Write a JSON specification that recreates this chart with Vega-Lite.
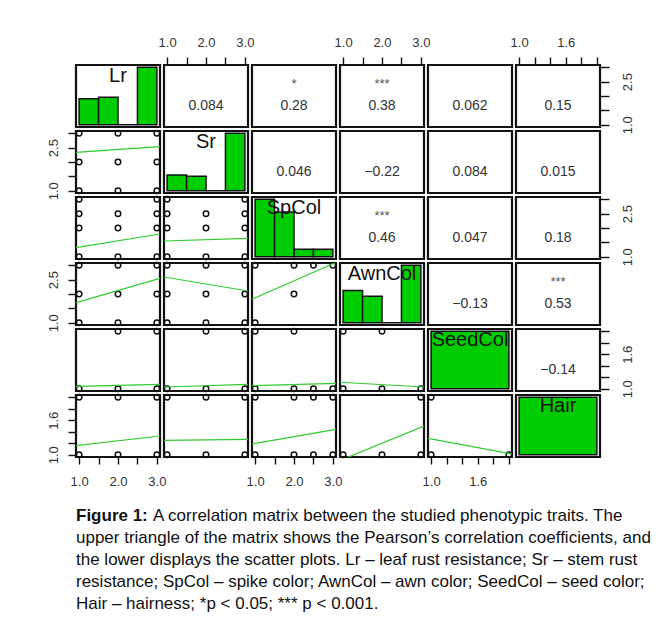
{
"$schema":"https://vega.github.io/schema/vega-lite/v6.json",
"background":"white",
"padding":{"left":45,"top":34,"right":0,"bottom":0},
"columns":6,"spacing":4,"bounds":"flush","align":"each",
"datasets":{
"hist":[
{"v":"Lr","x":1,"x2":1.5,"y":0.45,"y2":0},{"v":"Lr","x":1.5,"x2":2,"y":0.48,"y2":0},{"v":"Lr","x":2,"x2":2.5,"y":0,"y2":0},{"v":"Lr","x":2.5,"x2":3,"y":1,"y2":0},
{"v":"Sr","x":1,"x2":1.5,"y":0.275,"y2":0},{"v":"Sr","x":1.5,"x2":2,"y":0.25,"y2":0},{"v":"Sr","x":2,"x2":2.5,"y":0,"y2":0},{"v":"Sr","x":2.5,"x2":3,"y":1,"y2":0},
{"v":"SpCol","x":1,"x2":1.5,"y":1,"y2":0},{"v":"SpCol","x":1.5,"x2":2,"y":0.78,"y2":0},{"v":"SpCol","x":2,"x2":2.5,"y":0.13,"y2":0},{"v":"SpCol","x":2.5,"x2":3,"y":0.13,"y2":0},
{"v":"AwnCol","x":1,"x2":1.5,"y":0.56,"y2":0},{"v":"AwnCol","x":1.5,"x2":2,"y":0.46,"y2":0},{"v":"AwnCol","x":2,"x2":2.5,"y":0,"y2":0},{"v":"AwnCol","x":2.5,"x2":3,"y":1,"y2":0},
{"v":"SeedCol","x":1,"x2":2,"y":1,"y2":0},
{"v":"Hair","x":1,"x2":2,"y":1,"y2":0}
],
"diag":[
{"v":"Lr","x":2,"y":0.85,"t":"Lr"},{"v":"Sr","x":2,"y":0.85,"t":"Sr"},{"v":"SpCol","x":2,"y":0.85,"t":"SpCol"},{"v":"AwnCol","x":2,"y":0.85,"t":"AwnCol"},{"v":"SeedCol","x":1.5,"y":0.85,"t":"SeedCol"},{"v":"Hair","x":1.5,"y":0.85,"t":"Hair"}
],
"cor":[
{"p":"1_2","k":"v","x":2,"y":1.654,"t":"0.084"},
{"p":"1_3","k":"v","x":2,"y":1.654,"t":"0.28"},{"p":"1_3","k":"s","x":2,"y":2.41,"t":"*"},
{"p":"1_4","k":"v","x":2,"y":1.654,"t":"0.38"},{"p":"1_4","k":"s","x":2,"y":2.41,"t":"***"},
{"p":"1_5","k":"v","x":1.5,"y":1.654,"t":"0.062"},
{"p":"1_6","k":"v","x":1.5,"y":1.654,"t":"0.15"},
{"p":"2_3","k":"v","x":2,"y":1.654,"t":"0.046"},
{"p":"2_4","k":"v","x":2,"y":1.654,"t":"−0.22"},
{"p":"2_5","k":"v","x":1.5,"y":1.654,"t":"0.084"},
{"p":"2_6","k":"v","x":1.5,"y":1.654,"t":"0.015"},
{"p":"3_4","k":"v","x":2,"y":1.654,"t":"0.46"},{"p":"3_4","k":"s","x":2,"y":2.41,"t":"***"},
{"p":"3_5","k":"v","x":1.5,"y":1.654,"t":"0.047"},
{"p":"3_6","k":"v","x":1.5,"y":1.654,"t":"0.18"},
{"p":"4_5","k":"v","x":1.5,"y":1.654,"t":"−0.13"},
{"p":"4_6","k":"v","x":1.5,"y":1.654,"t":"0.53"},{"p":"4_6","k":"s","x":1.5,"y":2.41,"t":"***"},
{"p":"5_6","k":"v","x":1.5,"y":1.327,"t":"−0.14"}
],
"pts":[
{"p":"2_1","x":1,"y":1},{"p":"2_1","x":2,"y":1},{"p":"2_1","x":3,"y":1},{"p":"2_1","x":1,"y":2},{"p":"2_1","x":2,"y":2},{"p":"2_1","x":3,"y":2},{"p":"2_1","x":1,"y":3},{"p":"2_1","x":2,"y":3},{"p":"2_1","x":3,"y":3},
{"p":"3_1","x":1,"y":1},{"p":"3_1","x":2,"y":1},{"p":"3_1","x":3,"y":1},{"p":"3_1","x":1,"y":2},{"p":"3_1","x":2,"y":2},{"p":"3_1","x":3,"y":2},{"p":"3_1","x":1,"y":2.5},{"p":"3_1","x":2,"y":2.5},{"p":"3_1","x":3,"y":2.5},{"p":"3_1","x":1,"y":3},{"p":"3_1","x":3,"y":3},
{"p":"3_2","x":1,"y":1},{"p":"3_2","x":2,"y":1},{"p":"3_2","x":3,"y":1},{"p":"3_2","x":1,"y":2},{"p":"3_2","x":2,"y":2},{"p":"3_2","x":3,"y":2},{"p":"3_2","x":1,"y":2.5},{"p":"3_2","x":2,"y":2.5},{"p":"3_2","x":3,"y":2.5},{"p":"3_2","x":1,"y":3},{"p":"3_2","x":3,"y":3},
{"p":"4_1","x":1,"y":1},{"p":"4_1","x":2,"y":1},{"p":"4_1","x":3,"y":1},{"p":"4_1","x":1,"y":2},{"p":"4_1","x":2,"y":2},{"p":"4_1","x":3,"y":2},{"p":"4_1","x":1,"y":3},{"p":"4_1","x":2,"y":3},{"p":"4_1","x":3,"y":3},
{"p":"4_2","x":1,"y":1},{"p":"4_2","x":2,"y":1},{"p":"4_2","x":3,"y":1},{"p":"4_2","x":1,"y":2},{"p":"4_2","x":2,"y":2},{"p":"4_2","x":3,"y":2},{"p":"4_2","x":1,"y":3},{"p":"4_2","x":2,"y":3},{"p":"4_2","x":3,"y":3},
{"p":"4_3","x":1,"y":1},{"p":"4_3","x":2,"y":2},{"p":"4_3","x":1,"y":3},{"p":"4_3","x":2,"y":3},{"p":"4_3","x":2.5,"y":3},{"p":"4_3","x":3,"y":3},
{"p":"5_1","x":1,"y":1},{"p":"5_1","x":2,"y":1},{"p":"5_1","x":3,"y":1},{"p":"5_1","x":2,"y":2},{"p":"5_1","x":3,"y":2},
{"p":"5_2","x":1,"y":1},{"p":"5_2","x":2,"y":1},{"p":"5_2","x":3,"y":1},{"p":"5_2","x":2,"y":2},{"p":"5_2","x":3,"y":2},
{"p":"5_3","x":1,"y":1},{"p":"5_3","x":2,"y":1},{"p":"5_3","x":2.5,"y":1},{"p":"5_3","x":3,"y":1},{"p":"5_3","x":1,"y":2},{"p":"5_3","x":2,"y":2},
{"p":"5_4","x":1,"y":1},{"p":"5_4","x":2,"y":1},{"p":"5_4","x":3,"y":1},{"p":"5_4","x":1,"y":2},{"p":"5_4","x":2,"y":2},
{"p":"6_1","x":1,"y":1},{"p":"6_1","x":2,"y":1},{"p":"6_1","x":3,"y":1},{"p":"6_1","x":1,"y":2},{"p":"6_1","x":2,"y":2},{"p":"6_1","x":3,"y":2},
{"p":"6_2","x":1,"y":1},{"p":"6_2","x":2,"y":1},{"p":"6_2","x":3,"y":1},{"p":"6_2","x":1,"y":2},{"p":"6_2","x":2,"y":2},{"p":"6_2","x":3,"y":2},
{"p":"6_3","x":1,"y":1},{"p":"6_3","x":2,"y":1},{"p":"6_3","x":2.5,"y":1},{"p":"6_3","x":3,"y":1},{"p":"6_3","x":1,"y":2},{"p":"6_3","x":2,"y":2},{"p":"6_3","x":2.5,"y":2},{"p":"6_3","x":3,"y":2},
{"p":"6_4","x":1,"y":1},{"p":"6_4","x":2,"y":1},{"p":"6_4","x":3,"y":1},{"p":"6_4","x":3,"y":2},
{"p":"6_5","x":1,"y":1},{"p":"6_5","x":2,"y":1},{"p":"6_5","x":1,"y":2}
],
"lines":[
{"p":"2_1","x":0.92,"y":2.338},{"p":"2_1","x":3.08,"y":2.533},
{"p":"3_1","x":0.92,"y":1.314},{"p":"3_1","x":3.08,"y":1.791},
{"p":"3_2","x":0.92,"y":1.547},{"p":"3_2","x":3.08,"y":1.641},
{"p":"4_1","x":0.92,"y":1.697},{"p":"4_1","x":3.08,"y":2.547},
{"p":"4_2","x":0.92,"y":2.592},{"p":"4_2","x":3.08,"y":2.104},
{"p":"4_3","x":0.92,"y":1.815},{"p":"4_3","x":3.08,"y":3.1},
{"p":"5_1","x":0.92,"y":1.042},{"p":"5_1","x":3.08,"y":1.077},
{"p":"5_2","x":0.92,"y":1.03},{"p":"5_2","x":3.08,"y":1.077},
{"p":"5_3","x":0.92,"y":1.052},{"p":"5_3","x":3.08,"y":1.094},
{"p":"5_4","x":0.92,"y":1.112},{"p":"5_4","x":3.08,"y":1.03},
{"p":"6_1","x":0.92,"y":1.157},{"p":"6_1","x":3.08,"y":1.326},
{"p":"6_2","x":0.92,"y":1.251},{"p":"6_2","x":3.08,"y":1.268},
{"p":"6_3","x":0.92,"y":1.186},{"p":"6_3","x":3.08,"y":1.442},
{"p":"6_4","x":0.92,"y":0.9},{"p":"6_4","x":3.08,"y":1.5},
{"p":"6_5","x":0.96,"y":1.286},{"p":"6_5","x":2.04,"y":1.012}
],
"cap":[
{"ly":1,"x":0,"k":"b","t":"Figure 1:"},
{"ly":1,"x":0,"k":"r1","t":"A correlation matrix between the studied phenotypic traits. The"},
{"ly":2,"x":0,"k":"r","t":"upper triangle of the matrix shows the Pearson’s correlation coefficients, and"},
{"ly":3,"x":0,"k":"r","t":"the lower displays the scatter plots. Lr – leaf rust resistance; Sr – stem rust"},
{"ly":4,"x":0,"k":"r","t":"resistance; SpCol – spike color; AwnCol – awn color; SeedCol – seed color;"},
{"ly":5,"x":0,"k":"r","t":"Hair – hairness; *p < 0.05; *** p < 0.001."}
]
},
"concat":[
{"width":84,"height":62,"encoding":{"x":{"field":"x","type":"quantitative","scale":{"domain":[0.92,3.08],"nice":false,"zero":false},"axis":null},"y":{"field":"y","type":"quantitative","scale":{"domain":[-0.04,1.04],"nice":false,"zero":false},"axis":null}},
 "layer":[{"data":{"name":"hist"},"transform":[{"filter":"datum.v=='Lr'"}],"mark":{"type":"rect","fill":"#00cd00","stroke":"#111","strokeWidth":1.5},"encoding":{"x2":{"field":"x2"},"y2":{"field":"y2"}}},
 {"data":{"name":"diag"},"transform":[{"filter":"datum.v=='Lr'"}],"mark":{"type":"text","fontSize":20,"color":"#111","baseline":"middle"},"encoding":{"text":{"field":"t"}}}]},
{"width":84,"height":62,"encoding":{"x":{"field":"x","type":"quantitative","scale":{"domain":[0.92,3.08],"nice":false,"zero":false},"axis":{"orient":"top","title":null,"values":[1,1.5,2,2.5,3],"labelExpr":"datum.value==1||datum.value==2||datum.value==3?format(datum.value,'.1f'):''","tickSize":8,"labelPadding":8}},"y":{"field":"y","type":"quantitative","scale":{"domain":[0.92,3.08],"nice":false,"zero":false},"axis":null},"text":{"field":"t"}},
 "layer":[{"data":{"name":"cor"},"transform":[{"filter":"datum.p=='1_2'&&datum.k=='v'"}],"mark":{"type":"text","fontSize":14,"color":"#333","baseline":"middle"}}]},
{"width":84,"height":62,"encoding":{"x":{"field":"x","type":"quantitative","scale":{"domain":[0.92,3.08],"nice":false,"zero":false},"axis":null},"y":{"field":"y","type":"quantitative","scale":{"domain":[0.92,3.08],"nice":false,"zero":false},"axis":null},"text":{"field":"t"}},
 "layer":[{"data":{"name":"cor"},"transform":[{"filter":"datum.p=='1_3'&&datum.k=='v'"}],"mark":{"type":"text","fontSize":14,"color":"#333","baseline":"middle"}},{"data":{"name":"cor"},"transform":[{"filter":"datum.p=='1_3'&&datum.k=='s'"}],"mark":{"type":"text","fontSize":13,"color":"#555","baseline":"middle"}}]},
{"width":84,"height":62,"encoding":{"x":{"field":"x","type":"quantitative","scale":{"domain":[0.92,3.08],"nice":false,"zero":false},"axis":{"orient":"top","title":null,"values":[1,1.5,2,2.5,3],"labelExpr":"datum.value==1||datum.value==2||datum.value==3?format(datum.value,'.1f'):''","tickSize":8,"labelPadding":8}},"y":{"field":"y","type":"quantitative","scale":{"domain":[0.92,3.08],"nice":false,"zero":false},"axis":null},"text":{"field":"t"}},
 "layer":[{"data":{"name":"cor"},"transform":[{"filter":"datum.p=='1_4'&&datum.k=='v'"}],"mark":{"type":"text","fontSize":14,"color":"#333","baseline":"middle"}},{"data":{"name":"cor"},"transform":[{"filter":"datum.p=='1_4'&&datum.k=='s'"}],"mark":{"type":"text","fontSize":13,"color":"#555","baseline":"middle"}}]},
{"width":84,"height":62,"encoding":{"x":{"field":"x","type":"quantitative","scale":{"domain":[0.96,2.04],"nice":false,"zero":false},"axis":null},"y":{"field":"y","type":"quantitative","scale":{"domain":[0.92,3.08],"nice":false,"zero":false},"axis":null},"text":{"field":"t"}},
 "layer":[{"data":{"name":"cor"},"transform":[{"filter":"datum.p=='1_5'&&datum.k=='v'"}],"mark":{"type":"text","fontSize":14,"color":"#333","baseline":"middle"}}]},
{"width":84,"height":62,"encoding":{"x":{"field":"x","type":"quantitative","scale":{"domain":[0.96,2.04],"nice":false,"zero":false},"axis":{"orient":"top","title":null,"values":[1,1.2,1.4,1.6,1.8,2],"labelExpr":"datum.value==1||datum.value==1.6?format(datum.value,'.1f'):''","tickSize":8,"labelPadding":8}},"y":{"field":"y","type":"quantitative","scale":{"domain":[0.92,3.08],"nice":false,"zero":false},"axis":{"orient":"right","title":null,"values":[1,1.5,2,2.5,3],"labelExpr":"datum.value==1||datum.value==2.5?format(datum.value,'.1f'):''","labelAngle":270,"labelAlign":"center","labelBaseline":"top","tickSize":9,"labelPadding":12}},"text":{"field":"t"}},
 "layer":[{"data":{"name":"cor"},"transform":[{"filter":"datum.p=='1_6'&&datum.k=='v'"}],"mark":{"type":"text","fontSize":14,"color":"#333","baseline":"middle"}}]},

{"width":84,"height":62,"encoding":{"x":{"field":"x","type":"quantitative","scale":{"domain":[0.92,3.08],"nice":false,"zero":false},"axis":null},"y":{"field":"y","type":"quantitative","scale":{"domain":[0.92,3.08],"nice":false,"zero":false},"axis":{"orient":"left","title":null,"values":[1,1.5,2,2.5,3],"labelExpr":"datum.value==1||datum.value==2.5?format(datum.value,'.1f'):''","labelAngle":270,"labelAlign":"center","labelBaseline":"bottom","tickSize":8,"labelPadding":8}}},
 "layer":[{"data":{"name":"pts"},"transform":[{"filter":"datum.p=='2_1'"}],"mark":{"type":"point","shape":"circle","filled":false,"color":"#111","size":30,"strokeWidth":1.5,"opacity":1}},{"data":{"name":"lines"},"transform":[{"filter":"datum.p=='2_1'"}],"mark":{"type":"line","color":"#2ecc2e","strokeWidth":1.2,"clip":true}}]},
{"width":84,"height":62,"encoding":{"x":{"field":"x","type":"quantitative","scale":{"domain":[0.92,3.08],"nice":false,"zero":false},"axis":null},"y":{"field":"y","type":"quantitative","scale":{"domain":[-0.04,1.04],"nice":false,"zero":false},"axis":null}},
 "layer":[{"data":{"name":"hist"},"transform":[{"filter":"datum.v=='Sr'"}],"mark":{"type":"rect","fill":"#00cd00","stroke":"#111","strokeWidth":1.5},"encoding":{"x2":{"field":"x2"},"y2":{"field":"y2"}}},
 {"data":{"name":"diag"},"transform":[{"filter":"datum.v=='Sr'"}],"mark":{"type":"text","fontSize":20,"color":"#111","baseline":"middle"},"encoding":{"text":{"field":"t"}}}]},
{"width":84,"height":62,"encoding":{"x":{"field":"x","type":"quantitative","scale":{"domain":[0.92,3.08],"nice":false,"zero":false},"axis":null},"y":{"field":"y","type":"quantitative","scale":{"domain":[0.92,3.08],"nice":false,"zero":false},"axis":null},"text":{"field":"t"}},
 "layer":[{"data":{"name":"cor"},"transform":[{"filter":"datum.p=='2_3'&&datum.k=='v'"}],"mark":{"type":"text","fontSize":14,"color":"#333","baseline":"middle"}}]},
{"width":84,"height":62,"encoding":{"x":{"field":"x","type":"quantitative","scale":{"domain":[0.92,3.08],"nice":false,"zero":false},"axis":null},"y":{"field":"y","type":"quantitative","scale":{"domain":[0.92,3.08],"nice":false,"zero":false},"axis":null},"text":{"field":"t"}},
 "layer":[{"data":{"name":"cor"},"transform":[{"filter":"datum.p=='2_4'&&datum.k=='v'"}],"mark":{"type":"text","fontSize":14,"color":"#333","baseline":"middle"}}]},
{"width":84,"height":62,"encoding":{"x":{"field":"x","type":"quantitative","scale":{"domain":[0.96,2.04],"nice":false,"zero":false},"axis":null},"y":{"field":"y","type":"quantitative","scale":{"domain":[0.92,3.08],"nice":false,"zero":false},"axis":null},"text":{"field":"t"}},
 "layer":[{"data":{"name":"cor"},"transform":[{"filter":"datum.p=='2_5'&&datum.k=='v'"}],"mark":{"type":"text","fontSize":14,"color":"#333","baseline":"middle"}}]},
{"width":84,"height":62,"encoding":{"x":{"field":"x","type":"quantitative","scale":{"domain":[0.96,2.04],"nice":false,"zero":false},"axis":null},"y":{"field":"y","type":"quantitative","scale":{"domain":[0.92,3.08],"nice":false,"zero":false},"axis":null},"text":{"field":"t"}},
 "layer":[{"data":{"name":"cor"},"transform":[{"filter":"datum.p=='2_6'&&datum.k=='v'"}],"mark":{"type":"text","fontSize":14,"color":"#333","baseline":"middle"}}]},

{"width":84,"height":62,"encoding":{"x":{"field":"x","type":"quantitative","scale":{"domain":[0.92,3.08],"nice":false,"zero":false},"axis":null},"y":{"field":"y","type":"quantitative","scale":{"domain":[0.92,3.08],"nice":false,"zero":false},"axis":null}},
 "layer":[{"data":{"name":"pts"},"transform":[{"filter":"datum.p=='3_1'"}],"mark":{"type":"point","shape":"circle","filled":false,"color":"#111","size":30,"strokeWidth":1.5,"opacity":1}},{"data":{"name":"lines"},"transform":[{"filter":"datum.p=='3_1'"}],"mark":{"type":"line","color":"#2ecc2e","strokeWidth":1.2,"clip":true}}]},
{"width":84,"height":62,"encoding":{"x":{"field":"x","type":"quantitative","scale":{"domain":[0.92,3.08],"nice":false,"zero":false},"axis":null},"y":{"field":"y","type":"quantitative","scale":{"domain":[0.92,3.08],"nice":false,"zero":false},"axis":null}},
 "layer":[{"data":{"name":"pts"},"transform":[{"filter":"datum.p=='3_2'"}],"mark":{"type":"point","shape":"circle","filled":false,"color":"#111","size":30,"strokeWidth":1.5,"opacity":1}},{"data":{"name":"lines"},"transform":[{"filter":"datum.p=='3_2'"}],"mark":{"type":"line","color":"#2ecc2e","strokeWidth":1.2,"clip":true}}]},
{"width":84,"height":62,"encoding":{"x":{"field":"x","type":"quantitative","scale":{"domain":[0.92,3.08],"nice":false,"zero":false},"axis":null},"y":{"field":"y","type":"quantitative","scale":{"domain":[-0.04,1.04],"nice":false,"zero":false},"axis":null}},
 "layer":[{"data":{"name":"hist"},"transform":[{"filter":"datum.v=='SpCol'"}],"mark":{"type":"rect","fill":"#00cd00","stroke":"#111","strokeWidth":1.5},"encoding":{"x2":{"field":"x2"},"y2":{"field":"y2"}}},
 {"data":{"name":"diag"},"transform":[{"filter":"datum.v=='SpCol'"}],"mark":{"type":"text","fontSize":20,"color":"#111","baseline":"middle"},"encoding":{"text":{"field":"t"}}}]},
{"width":84,"height":62,"encoding":{"x":{"field":"x","type":"quantitative","scale":{"domain":[0.92,3.08],"nice":false,"zero":false},"axis":null},"y":{"field":"y","type":"quantitative","scale":{"domain":[0.92,3.08],"nice":false,"zero":false},"axis":null},"text":{"field":"t"}},
 "layer":[{"data":{"name":"cor"},"transform":[{"filter":"datum.p=='3_4'&&datum.k=='v'"}],"mark":{"type":"text","fontSize":14,"color":"#333","baseline":"middle"}},{"data":{"name":"cor"},"transform":[{"filter":"datum.p=='3_4'&&datum.k=='s'"}],"mark":{"type":"text","fontSize":13,"color":"#555","baseline":"middle"}}]},
{"width":84,"height":62,"encoding":{"x":{"field":"x","type":"quantitative","scale":{"domain":[0.96,2.04],"nice":false,"zero":false},"axis":null},"y":{"field":"y","type":"quantitative","scale":{"domain":[0.92,3.08],"nice":false,"zero":false},"axis":null},"text":{"field":"t"}},
 "layer":[{"data":{"name":"cor"},"transform":[{"filter":"datum.p=='3_5'&&datum.k=='v'"}],"mark":{"type":"text","fontSize":14,"color":"#333","baseline":"middle"}}]},
{"width":84,"height":62,"encoding":{"x":{"field":"x","type":"quantitative","scale":{"domain":[0.96,2.04],"nice":false,"zero":false},"axis":null},"y":{"field":"y","type":"quantitative","scale":{"domain":[0.92,3.08],"nice":false,"zero":false},"axis":{"orient":"right","title":null,"values":[1,1.5,2,2.5,3],"labelExpr":"datum.value==1||datum.value==2.5?format(datum.value,'.1f'):''","labelAngle":270,"labelAlign":"center","labelBaseline":"top","tickSize":9,"labelPadding":12}},"text":{"field":"t"}},
 "layer":[{"data":{"name":"cor"},"transform":[{"filter":"datum.p=='3_6'&&datum.k=='v'"}],"mark":{"type":"text","fontSize":14,"color":"#333","baseline":"middle"}}]},

{"width":84,"height":62,"encoding":{"x":{"field":"x","type":"quantitative","scale":{"domain":[0.92,3.08],"nice":false,"zero":false},"axis":null},"y":{"field":"y","type":"quantitative","scale":{"domain":[0.92,3.08],"nice":false,"zero":false},"axis":{"orient":"left","title":null,"values":[1,1.5,2,2.5,3],"labelExpr":"datum.value==1||datum.value==2.5?format(datum.value,'.1f'):''","labelAngle":270,"labelAlign":"center","labelBaseline":"bottom","tickSize":8,"labelPadding":8}}},
 "layer":[{"data":{"name":"pts"},"transform":[{"filter":"datum.p=='4_1'"}],"mark":{"type":"point","shape":"circle","filled":false,"color":"#111","size":30,"strokeWidth":1.5,"opacity":1}},{"data":{"name":"lines"},"transform":[{"filter":"datum.p=='4_1'"}],"mark":{"type":"line","color":"#2ecc2e","strokeWidth":1.2,"clip":true}}]},
{"width":84,"height":62,"encoding":{"x":{"field":"x","type":"quantitative","scale":{"domain":[0.92,3.08],"nice":false,"zero":false},"axis":null},"y":{"field":"y","type":"quantitative","scale":{"domain":[0.92,3.08],"nice":false,"zero":false},"axis":null}},
 "layer":[{"data":{"name":"pts"},"transform":[{"filter":"datum.p=='4_2'"}],"mark":{"type":"point","shape":"circle","filled":false,"color":"#111","size":30,"strokeWidth":1.5,"opacity":1}},{"data":{"name":"lines"},"transform":[{"filter":"datum.p=='4_2'"}],"mark":{"type":"line","color":"#2ecc2e","strokeWidth":1.2,"clip":true}}]},
{"width":84,"height":62,"encoding":{"x":{"field":"x","type":"quantitative","scale":{"domain":[0.92,3.08],"nice":false,"zero":false},"axis":null},"y":{"field":"y","type":"quantitative","scale":{"domain":[0.92,3.08],"nice":false,"zero":false},"axis":null}},
 "layer":[{"data":{"name":"pts"},"transform":[{"filter":"datum.p=='4_3'"}],"mark":{"type":"point","shape":"circle","filled":false,"color":"#111","size":30,"strokeWidth":1.5,"opacity":1}},{"data":{"name":"lines"},"transform":[{"filter":"datum.p=='4_3'"}],"mark":{"type":"line","color":"#2ecc2e","strokeWidth":1.2,"clip":true}}]},
{"width":84,"height":62,"encoding":{"x":{"field":"x","type":"quantitative","scale":{"domain":[0.92,3.08],"nice":false,"zero":false},"axis":null},"y":{"field":"y","type":"quantitative","scale":{"domain":[-0.04,1.04],"nice":false,"zero":false},"axis":null}},
 "layer":[{"data":{"name":"hist"},"transform":[{"filter":"datum.v=='AwnCol'"}],"mark":{"type":"rect","fill":"#00cd00","stroke":"#111","strokeWidth":1.5},"encoding":{"x2":{"field":"x2"},"y2":{"field":"y2"}}},
 {"data":{"name":"diag"},"transform":[{"filter":"datum.v=='AwnCol'"}],"mark":{"type":"text","fontSize":20,"color":"#111","baseline":"middle"},"encoding":{"text":{"field":"t"}}}]},
{"width":84,"height":62,"encoding":{"x":{"field":"x","type":"quantitative","scale":{"domain":[0.96,2.04],"nice":false,"zero":false},"axis":null},"y":{"field":"y","type":"quantitative","scale":{"domain":[0.92,3.08],"nice":false,"zero":false},"axis":null},"text":{"field":"t"}},
 "layer":[{"data":{"name":"cor"},"transform":[{"filter":"datum.p=='4_5'&&datum.k=='v'"}],"mark":{"type":"text","fontSize":14,"color":"#333","baseline":"middle"}}]},
{"width":84,"height":62,"encoding":{"x":{"field":"x","type":"quantitative","scale":{"domain":[0.96,2.04],"nice":false,"zero":false},"axis":null},"y":{"field":"y","type":"quantitative","scale":{"domain":[0.92,3.08],"nice":false,"zero":false},"axis":null},"text":{"field":"t"}},
 "layer":[{"data":{"name":"cor"},"transform":[{"filter":"datum.p=='4_6'&&datum.k=='v'"}],"mark":{"type":"text","fontSize":14,"color":"#333","baseline":"middle"}},{"data":{"name":"cor"},"transform":[{"filter":"datum.p=='4_6'&&datum.k=='s'"}],"mark":{"type":"text","fontSize":13,"color":"#555","baseline":"middle"}}]},

{"width":84,"height":62,"encoding":{"x":{"field":"x","type":"quantitative","scale":{"domain":[0.92,3.08],"nice":false,"zero":false},"axis":null},"y":{"field":"y","type":"quantitative","scale":{"domain":[0.96,2.04],"nice":false,"zero":false},"axis":null}},
 "layer":[{"data":{"name":"pts"},"transform":[{"filter":"datum.p=='5_1'"}],"mark":{"type":"point","shape":"circle","filled":false,"color":"#111","size":30,"strokeWidth":1.5,"opacity":1}},{"data":{"name":"lines"},"transform":[{"filter":"datum.p=='5_1'"}],"mark":{"type":"line","color":"#2ecc2e","strokeWidth":1.2,"clip":true}}]},
{"width":84,"height":62,"encoding":{"x":{"field":"x","type":"quantitative","scale":{"domain":[0.92,3.08],"nice":false,"zero":false},"axis":null},"y":{"field":"y","type":"quantitative","scale":{"domain":[0.96,2.04],"nice":false,"zero":false},"axis":null}},
 "layer":[{"data":{"name":"pts"},"transform":[{"filter":"datum.p=='5_2'"}],"mark":{"type":"point","shape":"circle","filled":false,"color":"#111","size":30,"strokeWidth":1.5,"opacity":1}},{"data":{"name":"lines"},"transform":[{"filter":"datum.p=='5_2'"}],"mark":{"type":"line","color":"#2ecc2e","strokeWidth":1.2,"clip":true}}]},
{"width":84,"height":62,"encoding":{"x":{"field":"x","type":"quantitative","scale":{"domain":[0.92,3.08],"nice":false,"zero":false},"axis":null},"y":{"field":"y","type":"quantitative","scale":{"domain":[0.96,2.04],"nice":false,"zero":false},"axis":null}},
 "layer":[{"data":{"name":"pts"},"transform":[{"filter":"datum.p=='5_3'"}],"mark":{"type":"point","shape":"circle","filled":false,"color":"#111","size":30,"strokeWidth":1.5,"opacity":1}},{"data":{"name":"lines"},"transform":[{"filter":"datum.p=='5_3'"}],"mark":{"type":"line","color":"#2ecc2e","strokeWidth":1.2,"clip":true}}]},
{"width":84,"height":62,"encoding":{"x":{"field":"x","type":"quantitative","scale":{"domain":[0.92,3.08],"nice":false,"zero":false},"axis":null},"y":{"field":"y","type":"quantitative","scale":{"domain":[0.96,2.04],"nice":false,"zero":false},"axis":null}},
 "layer":[{"data":{"name":"pts"},"transform":[{"filter":"datum.p=='5_4'"}],"mark":{"type":"point","shape":"circle","filled":false,"color":"#111","size":30,"strokeWidth":1.5,"opacity":1}},{"data":{"name":"lines"},"transform":[{"filter":"datum.p=='5_4'"}],"mark":{"type":"line","color":"#2ecc2e","strokeWidth":1.2,"clip":true}}]},
{"width":84,"height":62,"encoding":{"x":{"field":"x","type":"quantitative","scale":{"domain":[0.96,2.04],"nice":false,"zero":false},"axis":null},"y":{"field":"y","type":"quantitative","scale":{"domain":[-0.04,1.04],"nice":false,"zero":false},"axis":null}},
 "layer":[{"data":{"name":"hist"},"transform":[{"filter":"datum.v=='SeedCol'"}],"mark":{"type":"rect","fill":"#00cd00","stroke":"#111","strokeWidth":1.5},"encoding":{"x2":{"field":"x2"},"y2":{"field":"y2"}}},
 {"data":{"name":"diag"},"transform":[{"filter":"datum.v=='SeedCol'"}],"mark":{"type":"text","fontSize":20,"color":"#111","baseline":"middle"},"encoding":{"text":{"field":"t"}}}]},
{"width":84,"height":62,"encoding":{"x":{"field":"x","type":"quantitative","scale":{"domain":[0.96,2.04],"nice":false,"zero":false},"axis":null},"y":{"field":"y","type":"quantitative","scale":{"domain":[0.96,2.04],"nice":false,"zero":false},"axis":{"orient":"right","title":null,"values":[1,1.2,1.4,1.6,1.8,2],"labelExpr":"datum.value==1||datum.value==1.6?format(datum.value,'.1f'):''","labelAngle":270,"labelAlign":"center","labelBaseline":"top","tickSize":9,"labelPadding":12}},"text":{"field":"t"}},
 "layer":[{"data":{"name":"cor"},"transform":[{"filter":"datum.p=='5_6'&&datum.k=='v'"}],"mark":{"type":"text","fontSize":14,"color":"#333","baseline":"middle"}}]},

{"width":84,"height":62,"encoding":{"x":{"field":"x","type":"quantitative","scale":{"domain":[0.92,3.08],"nice":false,"zero":false},"axis":{"orient":"bottom","title":null,"values":[1,1.5,2,2.5,3],"labelExpr":"datum.value==1||datum.value==2||datum.value==3?format(datum.value,'.1f'):''","tickSize":7,"labelPadding":11}},"y":{"field":"y","type":"quantitative","scale":{"domain":[0.96,2.04],"nice":false,"zero":false},"axis":{"orient":"left","title":null,"values":[1,1.2,1.4,1.6,1.8,2],"labelExpr":"datum.value==1||datum.value==1.6?format(datum.value,'.1f'):''","labelAngle":270,"labelAlign":"center","labelBaseline":"bottom","tickSize":8,"labelPadding":8}}},
 "layer":[{"data":{"name":"pts"},"transform":[{"filter":"datum.p=='6_1'"}],"mark":{"type":"point","shape":"circle","filled":false,"color":"#111","size":30,"strokeWidth":1.5,"opacity":1}},{"data":{"name":"lines"},"transform":[{"filter":"datum.p=='6_1'"}],"mark":{"type":"line","color":"#2ecc2e","strokeWidth":1.2,"clip":true}}]},
{"width":84,"height":62,"encoding":{"x":{"field":"x","type":"quantitative","scale":{"domain":[0.92,3.08],"nice":false,"zero":false},"axis":null},"y":{"field":"y","type":"quantitative","scale":{"domain":[0.96,2.04],"nice":false,"zero":false},"axis":null}},
 "layer":[{"data":{"name":"pts"},"transform":[{"filter":"datum.p=='6_2'"}],"mark":{"type":"point","shape":"circle","filled":false,"color":"#111","size":30,"strokeWidth":1.5,"opacity":1}},{"data":{"name":"lines"},"transform":[{"filter":"datum.p=='6_2'"}],"mark":{"type":"line","color":"#2ecc2e","strokeWidth":1.2,"clip":true}}]},
{"width":84,"height":62,"encoding":{"x":{"field":"x","type":"quantitative","scale":{"domain":[0.92,3.08],"nice":false,"zero":false},"axis":{"orient":"bottom","title":null,"values":[1,1.5,2,2.5,3],"labelExpr":"datum.value==1||datum.value==2||datum.value==3?format(datum.value,'.1f'):''","tickSize":7,"labelPadding":11}},"y":{"field":"y","type":"quantitative","scale":{"domain":[0.96,2.04],"nice":false,"zero":false},"axis":null}},
 "layer":[{"data":{"name":"pts"},"transform":[{"filter":"datum.p=='6_3'"}],"mark":{"type":"point","shape":"circle","filled":false,"color":"#111","size":30,"strokeWidth":1.5,"opacity":1}},{"data":{"name":"lines"},"transform":[{"filter":"datum.p=='6_3'"}],"mark":{"type":"line","color":"#2ecc2e","strokeWidth":1.2,"clip":true}}]},
{"width":84,"height":62,"encoding":{"x":{"field":"x","type":"quantitative","scale":{"domain":[0.92,3.08],"nice":false,"zero":false},"axis":null},"y":{"field":"y","type":"quantitative","scale":{"domain":[0.96,2.04],"nice":false,"zero":false},"axis":null}},
 "layer":[{"data":{"name":"pts"},"transform":[{"filter":"datum.p=='6_4'"}],"mark":{"type":"point","shape":"circle","filled":false,"color":"#111","size":30,"strokeWidth":1.5,"opacity":1}},{"data":{"name":"lines"},"transform":[{"filter":"datum.p=='6_4'"}],"mark":{"type":"line","color":"#2ecc2e","strokeWidth":1.2,"clip":true}}]},
{"width":84,"height":62,"encoding":{"x":{"field":"x","type":"quantitative","scale":{"domain":[0.96,2.04],"nice":false,"zero":false},"axis":{"orient":"bottom","title":null,"values":[1,1.2,1.4,1.6,1.8,2],"labelExpr":"datum.value==1||datum.value==1.6?format(datum.value,'.1f'):''","tickSize":7,"labelPadding":11}},"y":{"field":"y","type":"quantitative","scale":{"domain":[0.96,2.04],"nice":false,"zero":false},"axis":null}},
 "layer":[{"data":{"name":"pts"},"transform":[{"filter":"datum.p=='6_5'"}],"mark":{"type":"point","shape":"circle","filled":false,"color":"#111","size":30,"strokeWidth":1.5,"opacity":1}},{"data":{"name":"lines"},"transform":[{"filter":"datum.p=='6_5'"}],"mark":{"type":"line","color":"#2ecc2e","strokeWidth":1.2,"clip":true}}]},
{"width":84,"height":62,"encoding":{"x":{"field":"x","type":"quantitative","scale":{"domain":[0.96,2.04],"nice":false,"zero":false},"axis":null},"y":{"field":"y","type":"quantitative","scale":{"domain":[-0.04,1.04],"nice":false,"zero":false},"axis":null}},
 "layer":[{"data":{"name":"hist"},"transform":[{"filter":"datum.v=='Hair'"}],"mark":{"type":"rect","fill":"#00cd00","stroke":"#111","strokeWidth":1.5},"encoding":{"x2":{"field":"x2"},"y2":{"field":"y2"}}},
 {"data":{"name":"diag"},"transform":[{"filter":"datum.v=='Hair'"}],"mark":{"type":"text","fontSize":20,"color":"#111","baseline":"middle"},"encoding":{"text":{"field":"t"}}}]},

{"width":84,"height":154,"view":{"stroke":null,"fill":null},
 "encoding":{"x":{"field":"x","type":"quantitative","scale":{"domain":[0,1],"nice":false,"zero":false},"axis":null},"y":{"field":"ly","type":"quantitative","scale":{"domain":[-1.5,5.5],"nice":false,"zero":false,"reverse":true},"axis":null},"text":{"field":"t"}},
 "layer":[
 {"data":{"name":"cap"},"transform":[{"filter":"datum.k=='b'"}],"mark":{"type":"text","align":"left","baseline":"middle","font":"Liberation Sans","fontSize":17,"fontWeight":"bold","color":"#111"}},
 {"data":{"name":"cap"},"transform":[{"filter":"datum.k=='r1'"}],"mark":{"type":"text","align":"left","baseline":"middle","font":"Liberation Sans","fontSize":17,"color":"#111","dx":77}},
 {"data":{"name":"cap"},"transform":[{"filter":"datum.k=='r'"}],"mark":{"type":"text","align":"left","baseline":"middle","font":"Liberation Sans","fontSize":17,"color":"#111"}}
 ]}
],
"config":{
 "view":{"stroke":"#111","strokeWidth":2.2,"fill":"white"},
 "font":"Liberation Sans",
 "text":{"font":"Liberation Sans"},
 "axis":{"labelFont":"Liberation Sans","labelFontSize":13,"labelColor":"#333","tickColor":"#111","tickWidth":1.4,"domain":false,"grid":false,"labelFlush":false,"labelOverlap":false}
}
}
